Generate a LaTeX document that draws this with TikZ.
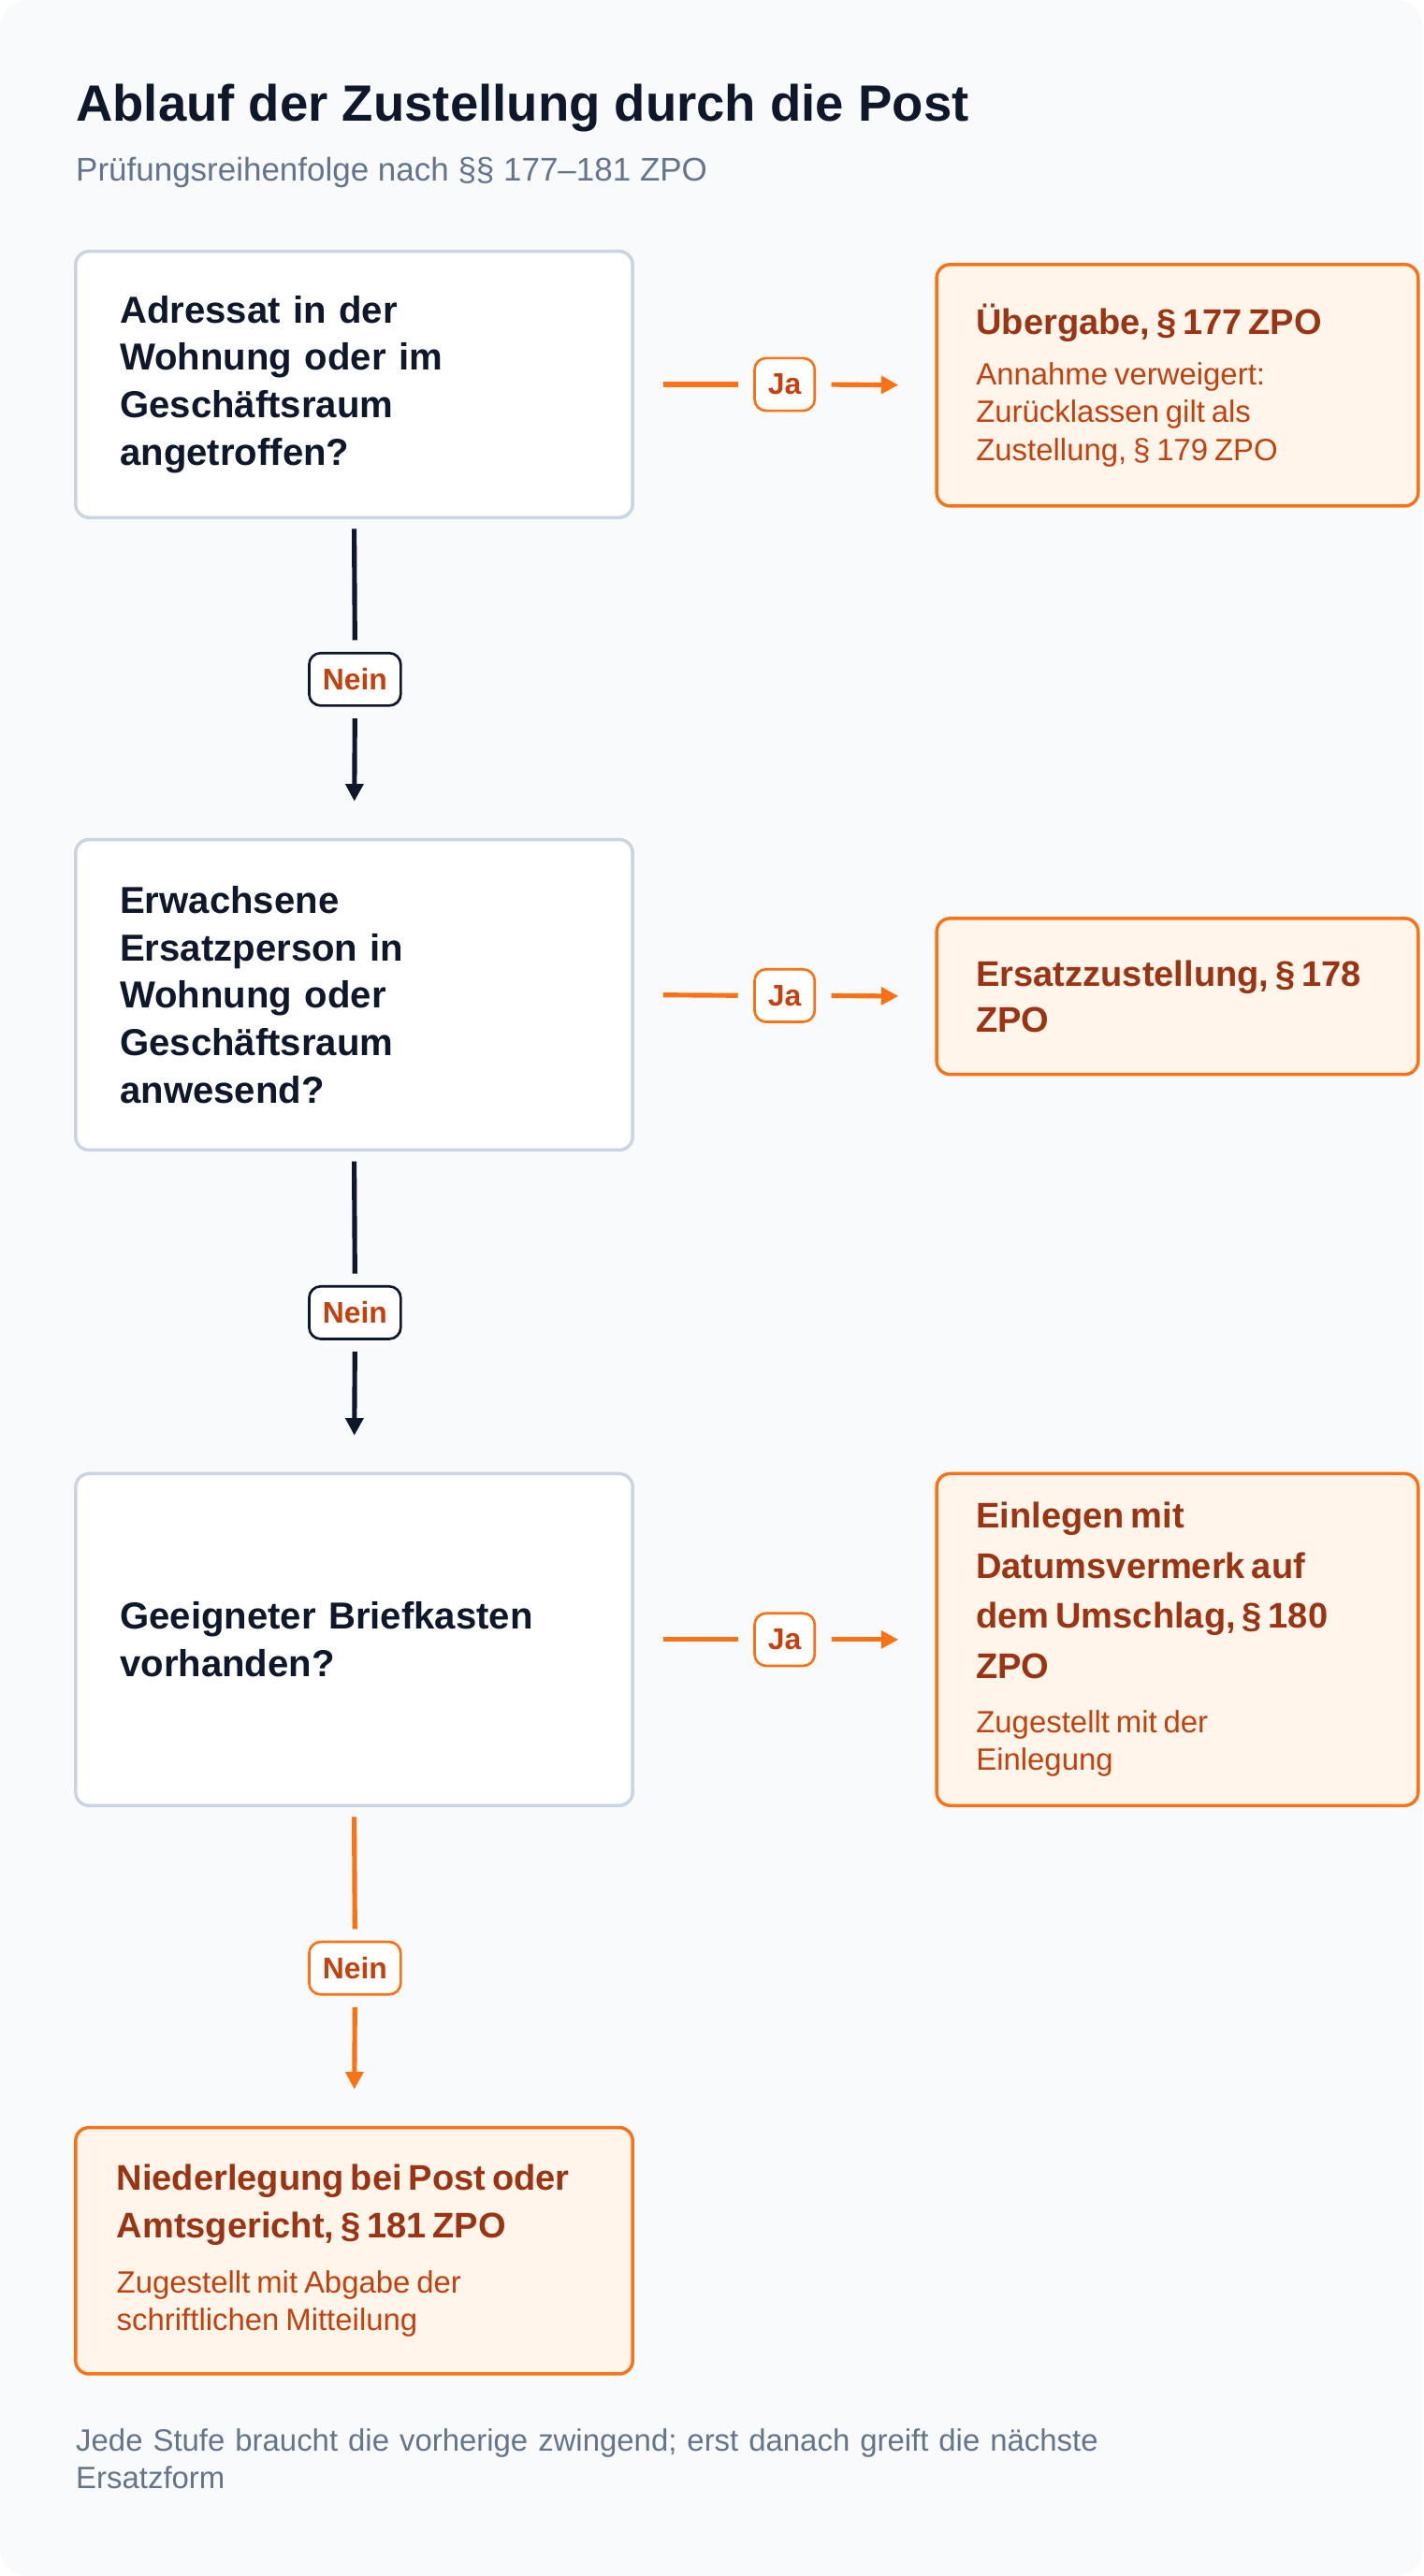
\documentclass[tikz,border=0pt]{standalone}
\usepackage{fontspec}
\setmainfont{Liberation Sans}
\usetikzlibrary{positioning}
\usetikzlibrary{arrows.meta}

\definecolor{navy}{HTML}{0F172A}
\definecolor{slate}{HTML}{64748B}
\definecolor{edge}{HTML}{CBD5E1}
\definecolor{canvas}{HTML}{F8FAFC}
\definecolor{accent}{HTML}{F97316}
\definecolor{rust}{HTML}{9A3412}
\definecolor{rustlight}{HTML}{C2410C}
\definecolor{cream}{HTML}{FFF5EB}

\newcommand{\rhead}[1]{{\fontsize{18.5}{22.5}\selectfont\bfseries #1\par}\vspace{7pt}}
\newcommand{\rbody}[1]{{\fontsize{16}{19.5}\selectfont\color{rustlight}#1\par}}

\begin{document}
\hyphenpenalty=10000 \exhyphenpenalty=10000
\begin{tikzpicture}[x=0.03cm, y=-0.03cm,
    question/.style={rectangle, rounded corners=7pt, draw=edge, line width=1.7pt, fill=white,
        minimum width=339*0.03cm, align=left, text width=285*0.03cm, inner xsep=0pt,
        font=\fontsize{19.5}{24.7}\selectfont\bfseries, text=navy},
    result/.style={rectangle, rounded corners=7pt, draw=accent, line width=1.7pt, fill=cream,
        minimum width=293*0.03cm, align=left, text width=245*0.03cm, inner xsep=0pt,
        text=rust},
    pill/.style={rectangle, rounded corners=6pt, line width=1.3pt, fill=white,
        minimum height=32*0.03cm, inner xsep=7pt, font=\fontsize{15.5}{18}\selectfont\bfseries},
    jaline/.style={draw=accent, line width=2.5pt},
    neinline/.style={draw=navy, line width=2.5pt},
    tip/.style={-{Triangle[length=9pt,width=9pt]}}]
    \fill[canvas, rounded corners=14pt] (0,0) rectangle (866,1568);

    \node (title) [anchor=west, text=navy, font=\fontsize{26.5}{30}\selectfont\bfseries, inner sep=0pt] at (46,66) {Ablauf der Zustellung durch die Post};
    \node (subtitle) [anchor=west, text=slate, font=\fontsize{17}{20}\selectfont, inner sep=0pt] at (46,105) {Prüfungsreihenfolge nach §§ 177–181 ZPO};

    % questions
    \node (q1) [question, minimum height=162*0.03cm] at (215.5,234) {Adressat in der\\Wohnung oder im\\Geschäftsraum\\angetroffen?};
    \node (q2) [question, minimum height=189*0.03cm] at (215.5,605.5) {Erwachsene\\Ersatzperson in\\Wohnung oder\\Geschäftsraum\\anwesend?};
    \node (q3) [question, minimum height=202*0.03cm] at (215.5,998) {Geeigneter Briefkasten\\vorhanden?};

    % results
    \node (r1) [result, minimum height=147*0.03cm] at (716.5,234.5) {%
        \rhead{Übergabe, § 177 ZPO}\rbody{Annahme verweigert:\\Zurücklassen gilt als\\Zustellung, § 179 ZPO}};
    \node (r2) [result, minimum height=95*0.03cm] at (716.5,606.5) {%
        {\fontsize{18.5}{24}\selectfont\bfseries Ersatzzustellung, § 178\\ZPO\par}};
    \node (r3) [result, minimum height=202*0.03cm] at (716.5,998) {%
        {\fontsize{18.5}{26}\selectfont\bfseries Einlegen mit\\Datumsvermerk auf\\dem Umschlag, § 180\\ZPO\par}\vspace{9pt}\rbody{Zugestellt mit der\\Einlegung}};
    \node (r4) [result, minimum width=339*0.03cm, text width=289*0.03cm, minimum height=150*0.03cm] at (215.5,1370) {%
        {\fontsize{18.5}{25}\selectfont\bfseries Niederlegung bei Post oder\\Amtsgericht, § 181 ZPO\par}\vspace{9pt}\rbody{Zugestellt mit Abgabe der\\schriftlichen Mitteilung}};

    % pills
    \node (ja1) [pill, draw=accent, text=rustlight] at (477.5,234) {Ja};
    \node (ja2) [pill, draw=accent, text=rustlight] at (477.5,606) {Ja};
    \node (ja3) [pill, draw=accent, text=rustlight] at (477.5,998) {Ja};
    \node (nein1) [pill, draw=navy, text=rustlight] at (216,413.5) {Nein};
    \node (nein2) [pill, draw=navy, text=rustlight] at (216,799) {Nein};
    \node (nein3) [pill, draw=accent, text=rustlight] at (216,1198) {Nein};

    % connectors
    \foreach \q/\p/\r in {q1/ja1/r1, q2/ja2/r2, q3/ja3/r3} {
        \draw[jaline, shorten <=15pt, shorten >=8pt] (\q.east) -- (\p.west);
        \draw[jaline, tip, shorten <=8pt, shorten >=19pt] (\p.east) -- (\r.west);
    }
    \draw[neinline, shorten <=5pt, shorten >=6pt] (q1.south) -- (nein1.north);
    \draw[neinline, tip, shorten <=6pt, shorten >=19pt] (nein1.south) -- (q2.north);
    \draw[neinline, shorten <=5pt, shorten >=6pt] (q2.south) -- (nein2.north);
    \draw[neinline, tip, shorten <=6pt, shorten >=19pt] (nein2.south) -- (q3.north);
    \draw[jaline, shorten <=5pt, shorten >=6pt] (q3.south) -- (nein3.north);
    \draw[jaline, tip, shorten <=6pt, shorten >=19pt] (nein3.south) -- (r4.north);

    \node (footer) [anchor=north west, text=slate, align=left, text width=700*0.03cm, inner sep=0pt,
        font=\fontsize{16}{19.5}\selectfont] at (46,1478) {Jede Stufe braucht die vorherige zwingend; erst danach greift die nächste\\Ersatzform};
\end{tikzpicture}
\end{document}
